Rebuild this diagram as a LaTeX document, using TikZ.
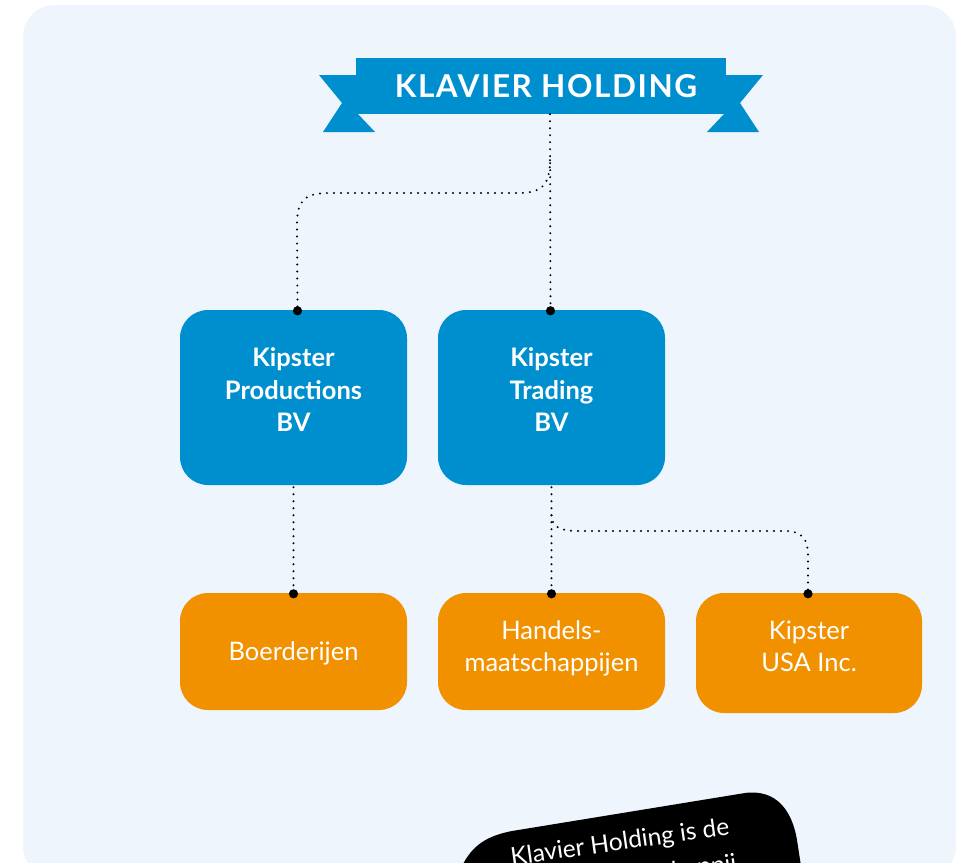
\documentclass[tikz,border=0pt]{standalone}
\usepackage{fontspec}
\setmainfont{Lato}
\usetikzlibrary{calc}
\definecolor{panel}{HTML}{EEF5FC}
\definecolor{kblue}{HTML}{008FCE}
\definecolor{korange}{HTML}{F29100}
\newcommand{\boxlines}[2]{\raisebox{#1}[\height][\depth]{\begin{tabular}{@{}c@{}}#2\end{tabular}}}
\begin{document}
\begin{tikzpicture}[x=1pt,y=-1pt,
  bluebox/.style={rectangle, rounded corners=28pt, fill=kblue, text=white, minimum width=227pt, minimum height=175pt, inner sep=0pt, align=center, font=\fontsize{25.5}{32.5}\selectfont\bfseries},
  orangebox/.style={rectangle, rounded corners=28pt, fill=korange, text=white, minimum width=227pt, minimum height=117pt, inner sep=0pt, align=center, font=\fontsize{25.5}{32}\selectfont},
  conn/.style={line width=2.2pt, dash pattern=on 0pt off 7pt, line cap=round, black},
  enddot/.style={fill=black},
  notetext/.style={text=white, rotate=8, anchor=base, inner sep=0pt, font=\fontsize{24.5}{32}\selectfont}
]
\useasboundingbox (0,0) rectangle (958,862);
\clip (0,0) rectangle (958,862);
\fill[white] (0,0) rectangle (958,862);
\fill[panel, rounded corners=32pt] (23,5) rectangle (956,878);

% banner tails
\fill[kblue] (319,75) -- (358,75) -- (358,114) -- (375,132) -- (323,132) -- (342,103) -- cycle;
\fill[kblue] (763,75) -- (724,75) -- (724,114) -- (707,132) -- (759,132) -- (740,103) -- cycle;
\node[rectangle, fill=kblue, text=white, minimum width=370pt, minimum height=56pt, inner sep=0pt,
      font=\fontsize{31.5}{34}\selectfont\bfseries] (banner) at (541,86) {\hspace*{10pt}\addfontfeature{LetterSpace=5}KLAVIER HOLDING};

% boxes
\node[bluebox] (kp) at (293.5,397.5) {\boxlines{5pt}{Kipster\\Productions\\BV}};
\node[bluebox] (kt) at (551.5,397.5) {\boxlines{5pt}{Kipster\\Trading\\BV}};
\node[orangebox] (bo) at (293.5,651.5) {\boxlines{-3pt}{Boerderijen}};
\node[orangebox] (hm) at (551.5,651.5) {\boxlines{2pt}{Handels-\\maatschappijen}};
\node[orangebox, minimum width=226pt, minimum height=120pt] (us) at (809,653) {\boxlines{4pt}{Kipster\\USA Inc.}};

% connectors
\coordinate (b0) at ($(banner.south)+(9,0)$);
\coordinate (b1) at ($(banner.south)+(9,46)$);
\coordinate (kpt) at ($(kp.north)+(4,1)$);
\coordinate (ktt) at ($(kt.north)+(-1,1)$);
\draw[conn] (b0) -- (ktt);
\draw[conn] (b1) .. controls (550,186) and (541,193) .. (518,193) -- (330,193)
  .. controls (302,193) and (297,202) .. (297,226) -- (kpt);
\fill[enddot] (kpt) circle (4.6);
\fill[enddot] (ktt) circle (4.6);

\coordinate (kpb) at ($(kp.south)+(0,2)$);
\coordinate (bot) at ($(bo.north)+(0,1)$);
\draw[conn] (kpb) -- (bot);
\fill[enddot] (bot) circle (4.6);

\coordinate (ktb) at ($(kt.south)+(0,2)$);
\coordinate (hmt) at ($(hm.north)+(0,1)$);
\coordinate (b2) at ($(kt.south)+(0,30)$);
\coordinate (ust) at ($(us.north)+(-1,1)$);
\draw[conn] (ktb) -- (hmt);
\draw[conn] (b2) .. controls (552,527) and (560,531) .. (578,531) -- (785,531)
  .. controls (803,531) and (808,540) .. (808,556) -- (ust);
\fill[enddot] (hmt) circle (4.6);
\fill[enddot] (ust) circle (4.6);

% black note blob
\fill[black] (462,866) .. controls (472,846) and (486,836) .. (512,831) -- (745,793)
  .. controls (776,789) and (792,810) .. (797,840) -- (801,866) -- cycle;
\node[notetext] (note1) at (621,850) {Klavier Holding is de};
\node[notetext] (note2) at (627,886) {moedermaatschappij};
\end{tikzpicture}
\end{document}
